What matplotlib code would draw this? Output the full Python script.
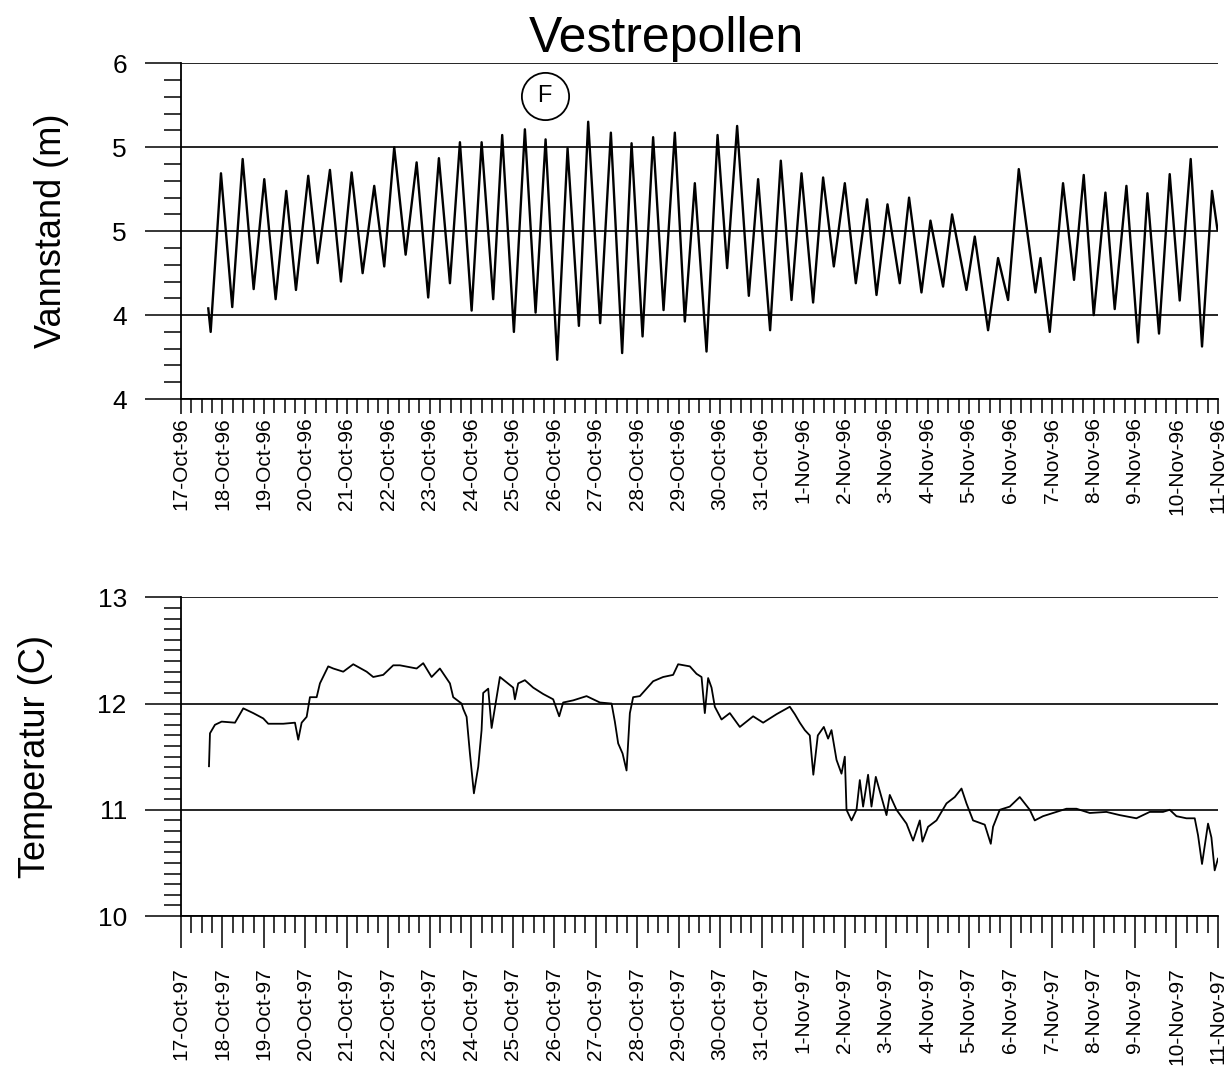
import numpy as np
import pandas as pd
import matplotlib
matplotlib.use("Agg")
import matplotlib.pyplot as plt
import matplotlib.dates as mdates
from matplotlib.ticker import MultipleLocator, FixedLocator, FixedFormatter

plt.rcParams['font.family'] = ['Liberation Sans', 'DejaVu Sans']

# water level (Vestrepollen, 1996): days after 17-Oct-96 00:00 and level (m)
level_days = [0.658, 0.716, 0.964, 1.236, 1.487, 1.752, 2.008, 2.282, 2.538, 2.772,
              3.068, 3.295, 3.591, 3.856, 4.114, 4.379, 4.659, 4.900, 5.141, 5.416,
              5.681, 5.960, 6.218, 6.484, 6.725, 7.007, 7.248, 7.527, 7.744, 8.026,
              8.291, 8.549, 8.790, 9.070, 9.320, 9.593, 9.817, 10.106, 10.364, 10.636,
              10.863, 11.128, 11.383, 11.634, 11.906, 12.147, 12.388, 12.670, 12.936, 13.167,
              13.408, 13.690, 13.914, 14.203, 14.461, 14.719, 14.960, 15.240, 15.481, 15.739,
              16.004, 16.269, 16.541, 16.768, 17.033, 17.329, 17.553, 17.852, 18.069, 18.373,
              18.590, 18.937, 19.137, 19.458, 19.699, 19.940, 20.198, 20.600, 20.721, 20.945,
              21.265, 21.530, 21.764, 22.005, 22.287, 22.511, 22.793, 23.073, 23.300, 23.579,
              23.837, 24.078, 24.343, 24.616, 24.857, 24.987]
level_m = [4.54, 4.40, 5.345, 4.548, 5.43, 4.655, 5.31, 4.595, 5.24, 4.65,
           5.33, 4.81, 5.365, 4.70, 5.35, 4.75, 5.27, 4.79, 5.50, 4.86,
           5.41, 4.605, 5.435, 4.69, 5.53, 4.527, 5.53, 4.595, 5.573, 4.40,
           5.607, 4.515, 5.547, 4.234, 5.494, 4.436, 5.652, 4.452, 5.587, 4.274,
           5.524, 4.373, 5.56, 4.53, 5.587, 4.462, 5.286, 4.283, 5.573, 4.78,
           5.627, 4.615, 5.31, 4.41, 5.42, 4.59, 5.345, 4.575, 5.32, 4.79,
           5.286, 4.69, 5.19, 4.62, 5.16, 4.69, 5.20, 4.635, 5.063, 4.67,
           5.10, 4.65, 4.968, 4.41, 4.84, 4.59, 5.37, 4.635, 4.84, 4.40,
           5.286, 4.71, 5.335, 4.50, 5.23, 4.536, 5.27, 4.337, 5.226, 4.39,
           5.34, 4.587, 5.43, 4.313, 5.24, 5.01]

# temperature (1997): days after 17-Oct-97 00:00 and temperature (C)
temp_days = [0.675, 0.699, 0.819, 0.981, 1.302, 1.502, 1.743, 1.984, 2.104, 2.466,
             2.748, 2.827, 2.909, 3.030, 3.109, 3.271, 3.350, 3.550, 3.671, 3.912,
             4.153, 4.476, 4.635, 4.876, 5.117, 5.278, 5.681, 5.840, 6.042, 6.242,
             6.484, 6.563, 6.765, 6.804, 6.886, 6.966, 7.062, 7.166, 7.247, 7.286,
             7.407, 7.489, 7.609, 7.689, 8.009, 8.050, 8.130, 8.291, 8.491, 8.732,
             8.973, 9.118, 9.214, 9.455, 9.778, 10.099, 10.381, 10.460, 10.540, 10.646,
             10.742, 10.822, 10.901, 11.063, 11.383, 11.624, 11.865, 11.986, 12.268, 12.429,
             12.550, 12.629, 12.709, 12.791, 12.870, 13.032, 13.232, 13.473, 13.794, 14.035,
             14.358, 14.678, 14.799, 14.919, 15.040, 15.160, 15.245, 15.353, 15.498, 15.601,
             15.683, 15.804, 15.924, 16.004, 16.045, 16.166, 16.286, 16.366, 16.445, 16.565,
             16.647, 16.751, 16.888, 17.009, 17.088, 17.250, 17.491, 17.650, 17.812, 17.876,
             18.011, 18.214, 18.455, 18.655, 18.817, 18.937, 19.096, 19.378, 19.523, 19.578,
             19.740, 19.981, 20.222, 20.463, 20.583, 20.783, 21.024, 21.347, 21.588, 21.909,
             22.311, 22.632, 23.034, 23.355, 23.675, 23.837, 23.999, 24.240, 24.440, 24.520,
             24.616, 24.761, 24.842, 24.921, 25.000]
temp_c = [11.41, 11.72, 11.80, 11.83, 11.82, 11.955, 11.91, 11.86, 11.81, 11.81,
          11.82, 11.66, 11.82, 11.875, 12.06, 12.06, 12.19, 12.35, 12.33, 12.30,
          12.37, 12.30, 12.25, 12.27, 12.36, 12.36, 12.33, 12.38, 12.25, 12.33,
          12.19, 12.06, 12.00, 11.95, 11.875, 11.53, 11.155, 11.405, 11.75, 12.10,
          12.14, 11.77, 12.06, 12.25, 12.15, 12.04, 12.19, 12.22, 12.15, 12.09,
          12.04, 11.88, 12.01, 12.03, 12.07, 12.01, 12.00, 11.83, 11.625, 11.53,
          11.37, 11.91, 12.06, 12.07, 12.21, 12.25, 12.27, 12.37, 12.35, 12.28,
          12.25, 11.91, 12.24, 12.15, 11.97, 11.85, 11.91, 11.78, 11.88, 11.82,
          11.90, 11.97, 11.90, 11.82, 11.75, 11.70, 11.33, 11.70, 11.78, 11.67,
          11.75, 11.47, 11.34, 11.50, 11.00, 10.90, 11.00, 11.28, 11.03, 11.33,
          11.03, 11.31, 11.12, 10.95, 11.14, 11.00, 10.87, 10.71, 10.90, 10.70,
          10.84, 10.90, 11.06, 11.12, 11.20, 11.06, 10.90, 10.86, 10.68, 10.84,
          11.00, 11.03, 11.12, 11.00, 10.90, 10.94, 10.97, 11.01, 11.01, 10.97,
          10.98, 10.95, 10.92, 10.98, 10.98, 11.00, 10.94, 10.92, 10.92, 10.76,
          10.49, 10.87, 10.74, 10.43, 10.54]

level_ticks = [4.0, 4.5, 5.0, 5.5, 6.0]
level_ticklabels = ["4", "4", "5", "5", "6"]
temp_ticks = [10, 11, 12, 13]
temp_ticklabels = ["10", "11", "12", "13"]


def to_dates(start, days):
    return pd.Timestamp(start) + pd.to_timedelta(np.asarray(days), unit='D')


def style_axis(ax, start, ticks, ticklabels, minor_step, xmaj_len, xmin_len, xpad):
    for s in ['top', 'right']:
        ax.spines[s].set_visible(False)
    for s in ['left', 'bottom']:
        ax.spines[s].set_linewidth(1.3)
    ax.set_xlim(pd.Timestamp(start), pd.Timestamp(start) + pd.Timedelta(days=25))
    ax.set_ylim(ticks[0], ticks[-1])
    ax.xaxis.set_major_locator(mdates.DayLocator())
    ax.xaxis.set_minor_locator(mdates.HourLocator(byhour=[6, 12, 18]))
    ax.xaxis.set_major_formatter(mdates.DateFormatter('%-d-%b-%y'))
    ax.yaxis.set_major_locator(FixedLocator(ticks))
    ax.yaxis.set_major_formatter(FixedFormatter(ticklabels))
    ax.yaxis.set_minor_locator(MultipleLocator(minor_step))
    ax.tick_params(axis='x', which='major', direction='out', length=xmaj_len, width=1.1,
                   labelsize=15, labelrotation=90, pad=xpad)
    ax.tick_params(axis='x', which='minor', direction='out', length=xmin_len, width=1.1)
    ax.tick_params(axis='y', which='major', direction='out', length=26, width=1.1,
                   labelsize=19, pad=13)
    ax.tick_params(axis='y', which='minor', direction='out', length=12, width=1.1)
    ax.grid(axis='y', which='major', color='black', linewidth=1.2)
    ax.set_axisbelow(False)


fig = plt.figure(figsize=(12.32, 10.90), dpi=100)

ax1 = fig.add_axes([0.1469, 0.6339, 0.8417, 0.3080])
ax1.plot(to_dates('1996-10-17', level_days), level_m, color='black', linewidth=1.7)
style_axis(ax1, '1996-10-17', level_ticks, level_ticklabels, 0.1, 11, 10, 2)
ax1.set_ylabel('Vannstand (m)', fontsize=26)
ax1.yaxis.set_label_coords(-0.108, 0.5)

# circled F marker
fx = pd.Timestamp('1996-10-17') + pd.Timedelta(days=8.77)
ax1.plot([fx], [5.805], marker='o', markersize=34, markerfacecolor='white',
         markeredgecolor='black', markeredgewidth=1.3, clip_on=False)
ax1.text(fx, 5.805, 'F', ha='center', va='center', fontsize=17)

ax2 = fig.add_axes([0.1469, 0.1596, 0.8417, 0.2924])
ax2.plot(to_dates('1997-10-17', temp_days), temp_c, color='black', linewidth=1.3)
style_axis(ax2, '1997-10-17', temp_ticks, temp_ticklabels, 0.1, 23, 12, 14)
ax2.set_ylabel('Temperatur (C)', fontsize=26)
ax2.yaxis.set_label_coords(-0.123, 0.5)

fig.text(0.5406, 0.952, 'Vestrepollen', ha='center', va='baseline', fontsize=36)

fig.savefig('out.png', dpi=100, facecolor='white')
